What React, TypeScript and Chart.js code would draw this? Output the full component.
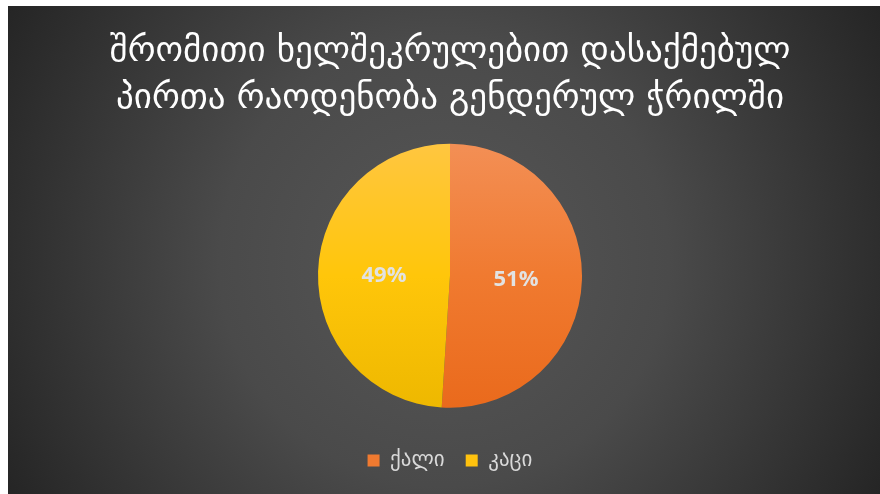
import React, { useEffect, useRef } from "react";
import { Chart, registerables } from "chart.js";

Chart.register(...registerables);

const titleLines = ["შრომითი ხელშეკრულებით დასაქმებულ", "პირთა რაოდენობა გენდერულ ჭრილში"];
const categories = ["ქალი", "კაცი"];
const shares = [51, 49];
const topColors = ["#f38f55", "#ffc640"];
const midColors = ["#f07a30", "#ffc60a"];
const bottomColors = ["#ea6a1c", "#eeb800"];
const legendColors = ["#f07a30", "#ffc20e"];

const R = 132;

const bgPlugin = {
  id: "bgPlugin",
  beforeDraw(chart: any) {
    const { ctx, width, height } = chart;
    ctx.save();
    const g = ctx.createRadialGradient(width / 2, height / 2 + 20, 0, width / 2, height / 2, Math.hypot(width, height) / 2);
    g.addColorStop(0, "#575757");
    g.addColorStop(0.45, "#4a4a4a");
    g.addColorStop(1, "#252525");
    ctx.fillStyle = g;
    ctx.fillRect(0, 0, width, height);
    ctx.restore();
  },
};

const labelPlugin = {
  id: "labelPlugin",
  afterDatasetsDraw(chart: any) {
    const { ctx } = chart;
    const meta = chart.getDatasetMeta(0);
    const data = chart.data.datasets[0].data as number[];
    const total = data.reduce((a, b) => a + b, 0);
    ctx.save();
    ctx.font = "bold 22px 'Open Sans'";
    ctx.fillStyle = "#e2e2e2";
    ctx.textAlign = "center";
    ctx.textBaseline = "middle";
    meta.data.forEach((arc: any, i: number) => {
      const p = arc.getProps(["x", "y", "startAngle", "endAngle", "outerRadius"], true);
      const mid = (p.startAngle + p.endAngle) / 2;
      const r = p.outerRadius * 0.5;
      const x = p.x + Math.cos(mid) * r;
      const y = p.y + Math.sin(mid) * r + 2;
      ctx.fillText(Math.round((data[i] / total) * 100) + "%", x, y);
    });
    ctx.restore();
  },
};

function sliceFill(c: any) {
  const i = c.dataIndex ?? 0;
  const chart = c.chart;
  const a = chart.chartArea;
  if (!a) return midColors[i];
  const cy = (a.top + a.bottom) / 2;
  const g = chart.ctx.createLinearGradient(0, cy - R, 0, cy + R);
  g.addColorStop(0, topColors[i]);
  g.addColorStop(0.5, midColors[i]);
  g.addColorStop(1, bottomColors[i]);
  return g;
}

export default function App() {
  const ref = useRef<HTMLCanvasElement>(null);
  useEffect(() => {
    if (!ref.current) return;
    const chart = new Chart(ref.current, {
      type: "pie",
      data: {
        labels: categories,
        datasets: [
          {
            data: shares,
            backgroundColor: sliceFill as any,
            borderWidth: 0,
            radius: R,
          } as any,
        ],
      },
      options: {
        animation: false,
        responsive: false,
        maintainAspectRatio: false,
        layout: { padding: { left: 12, right: 0, top: 0, bottom: 13 } },
        plugins: {
          tooltip: { enabled: false },
          title: {
            display: true,
            text: titleLines,
            color: "#ffffff",
            font: { family: "'DejaVu Sans'", size: 35, weight: "normal", lineHeight: 1.35 },
            padding: { top: 22, bottom: 0 },
          },
          legend: {
            display: true,
            position: "bottom",
            labels: {
              color: "#d9d9d9",
              font: { family: "'DejaVu Sans'", size: 21 },
              boxWidth: 12,
              boxHeight: 12,
              padding: 21,
              generateLabels: () =>
                categories.map((t, i) => ({
                  text: t,
                  fillStyle: legendColors[i],
                  strokeStyle: legendColors[i],
                  lineWidth: 0,
                  fontColor: "#d9d9d9",
                  hidden: false,
                  index: i,
                })),
            },
          },
        },
      },
      plugins: [bgPlugin, labelPlugin],
    });
    return () => chart.destroy();
  }, []);
  return (
    <div style={{ position: "absolute", left: 8, top: 6, width: 872, height: 488 }}>
      <canvas ref={ref} width={872} height={488} style={{ width: 872, height: 488, display: "block" }} />
    </div>
  );
}
